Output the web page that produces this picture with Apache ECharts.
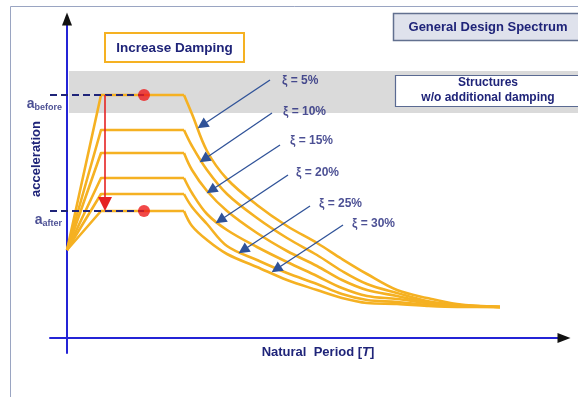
<!DOCTYPE html>
<html>
<head>
<meta charset="utf-8">
<script src="https://cdn.jsdelivr.net/npm/echarts@6/dist/echarts.min.js"></script>
<style>
  html, body { margin: 0; padding: 0; background: #ffffff; }
  #chart { width: 578px; height: 397px; }
</style>
</head>
<body>
<div id="chart"></div>
<script>
// ---- Design spectrum data (period T, spectral acceleration a) ----
const dampingLabels = ['ξ = 5%', 'ξ = 10%', 'ξ = 15%', 'ξ = 20%', 'ξ = 25%', 'ξ = 30%'];
const groundAccel = 0.88;        // spectral value at T = 0
const rampEndPeriod = 0.34;      // plateau starts here
const plateauAccel = [2.43, 2.08, 1.85, 1.60, 1.44, 1.27];

// descending branch, sampled at these periods (first = end of plateau)
const decayPeriod = [1.17, 1.25, 1.4, 1.6, 1.9, 2.2, 2.5, 2.75, 3.0, 3.3, 3.6, 3.9, 4.33];
const decay05 = [2.43, 2.24, 1.87, 1.59, 1.33, 1.12, 0.95, 0.79, 0.64, 0.48, 0.40, 0.34, 0.31];
const decay10 = [2.08, 1.92, 1.68, 1.44, 1.20, 1.00, 0.83, 0.67, 0.54, 0.45, 0.37, 0.33, 0.31];
const decay15 = [1.85, 1.68, 1.47, 1.27, 1.05, 0.87, 0.72, 0.58, 0.48, 0.42, 0.36, 0.33, 0.31];
const decay20 = [1.60, 1.45, 1.24, 1.08, 0.91, 0.76, 0.62, 0.50, 0.42, 0.39, 0.35, 0.32, 0.31];
const decay25 = [1.44, 1.31, 1.14, 0.92, 0.78, 0.65, 0.54, 0.44, 0.38, 0.36, 0.33, 0.32, 0.31];
const decay30 = [1.27, 1.12, 0.98, 0.84, 0.71, 0.58, 0.48, 0.40, 0.35, 0.34, 0.32, 0.31, 0.31];
const decayAccel = [decay05, decay10, decay15, decay20, decay25, decay30];

// damping labels and their pointer arrows
const labelAnchor = [[2.15, 2.57], [2.16, 2.26], [2.23, 1.97], [2.29, 1.65], [2.52, 1.34], [2.85, 1.14]];
const pointerTail = [[2.03, 2.58], [2.05, 2.25], [2.13, 1.93], [2.21, 1.63], [2.43, 1.32], [2.76, 1.13]];
const pointerTip  = [[1.31, 2.10], [1.33, 1.76], [1.40, 1.45], [1.49, 1.15], [1.72, 0.85], [2.05, 0.66]];

// a_before / a_after markers
const aBefore = plateauAccel[0];
const aAfter = plateauAccel[plateauAccel.length - 1];
const dotPeriod = 0.77;
const dropPeriod = 0.38;

// reference band of structures without additional damping
const bandAccel = [2.25, 2.67];
const bandStart = 0.02;

// axis extents
const xMin = -0.17, xMax = 4.97;
const yMin = -0.15, yMax = 3.19;

// ---- styling ----
const FONT = '"Liberation Sans", Arial, sans-serif';
const NAVY = '#1f2479';
const AXIS_BLUE = '#2424d6';
const CURVE = '#f5b122';
const POINTER = '#2f5298';

const chart = echarts.init(document.getElementById('chart'), null, { renderer: 'canvas' });

// shorten a pointer so the arrow head ends on the curve (equal px/unit on both axes)
function pullBack(tail, tip, d) {
  const dx = tip[0] - tail[0], dy = tip[1] - tail[1];
  const len = Math.hypot(dx, dy);
  return [tip[0] - dx / len * d, tip[1] - dy / len * d];
}

const series = [];

// spectrum curves: linear ramp + plateau, then smooth decay
dampingLabels.forEach(function (name, i) {
  series.push({
    name: name, type: 'line', symbol: 'none', z: 4,
    data: [[0, groundAccel], [rampEndPeriod, plateauAccel[i]], [decayPeriod[0], plateauAccel[i]]],
    lineStyle: { color: CURVE, width: 2.6, join: 'round' }
  });
  series.push({
    name: name, type: 'line', symbol: 'none', smooth: 0.35, z: 4,
    data: decayPeriod.map(function (t, k) { return [t, decayAccel[i][k]]; }),
    lineStyle: { color: CURVE, width: 2.6, join: 'round' }
  });
});

// dashed level lines for a_before / a_after, drawn over the plateaus
[aBefore, aAfter].forEach(function (a) {
  series.push({
    type: 'line', symbol: 'none', silent: true, z: 5,
    data: [[xMin, a], [dotPeriod, a]],
    lineStyle: { color: NAVY, width: 2, type: [7, 4] }
  });
});

// pointer arrows from the labels to the curves
series.push({
  type: 'lines', coordinateSystem: 'cartesian2d', z: 5, silent: true,
  symbol: ['none', 'triangle'], symbolSize: [8, 11],
  lineStyle: { color: POINTER, width: 1.3, opacity: 1 },
  data: pointerTail.map(function (tail, i) {
    return { coords: [tail, pullBack(tail, pointerTip[i], 0.05)], lineStyle: { color: POINTER } };
  })
});

// damping labels
series.push({
  type: 'scatter', symbolSize: 0, z: 6, silent: true,
  data: labelAnchor.map(function (p, i) { return { value: p, name: dampingLabels[i] }; }),
  label: {
    show: true, position: 'right', distance: 0, formatter: '{b}',
    color: NAVY, fontFamily: FONT, fontWeight: 'bold', fontSize: 12
  }
});

// red drop arrow from a_before to a_after
series.push({
  type: 'lines', coordinateSystem: 'cartesian2d', z: 6, silent: true,
  symbol: ['none', 'triangle'], symbolSize: [9, 14],
  lineStyle: { color: '#e52222', width: 1.6, opacity: 1 },
  data: [{ coords: [[dropPeriod, aBefore], [dropPeriod, aAfter + 0.07]] }]
});

// red markers
series.push({
  type: 'scatter', symbol: 'circle', symbolSize: 12, z: 7, silent: true,
  itemStyle: { color: '#ee1b1b' },
  data: [[dotPeriod, aBefore], [dotPeriod, aAfter]]
});

// a_before / a_after labels next to the vertical axis
series.push({
  type: 'scatter', symbolSize: 0, z: 6, silent: true,
  data: [
    { value: [0, aBefore], name: 'before' },
    { value: [0, aAfter], name: 'after' }
  ],
  label: {
    show: true, position: 'left', distance: 5, offset: [0, 9],
    formatter: function (p) { return '{a|a}{s|' + p.name + '}'; },
    rich: {
      a: { color: NAVY, fontFamily: FONT, fontWeight: 'bold', fontSize: 14 },
      s: { color: NAVY, fontFamily: FONT, fontWeight: 'bold', fontSize: 9, padding: [7, 0, 0, 0] }
    }
  }
});

function plainAxis(extra) {
  return Object.assign({
    type: 'value',
    axisTick: { show: false },
    axisLabel: { show: false },
    splitLine: { show: false }
  }, extra);
}

const option = {
  animation: false,
  backgroundColor: '#ffffff',
  grid: { left: 50, right: 14, top: 19, bottom: 44 },
  xAxis: [
    plainAxis({
      min: xMin, max: xMax, position: 'bottom',
      axisLine: { onZero: true, onZeroAxisIndex: 0, lineStyle: { color: AXIS_BLUE, width: 2 } }
    }),
    // second copy of the axis that only carries the black arrow head
    plainAxis({
      min: xMin, max: xMax, position: 'bottom',
      axisLine: {
        onZero: true, onZeroAxisIndex: 0, symbol: ['none', 'triangle'], symbolSize: [10, 13],
        lineStyle: { color: '#111111', width: 0 }
      }
    })
  ],
  yAxis: [
    plainAxis({
      min: yMin, max: yMax, position: 'left',
      axisLine: { onZero: true, onZeroAxisIndex: 0, lineStyle: { color: AXIS_BLUE, width: 2 } }
    }),
    plainAxis({
      min: yMin, max: yMax, position: 'left',
      axisLine: {
        onZero: true, onZeroAxisIndex: 0, symbol: ['none', 'triangle'], symbolSize: [10, 13],
        lineStyle: { color: '#111111', width: 0 }
      }
    })
  ],
  series: series
};

chart.setOption(option);

// frame, gray band, title boxes and axis names
const bandTop = chart.convertToPixel({ gridIndex: 0 }, [bandStart, bandAccel[1]]);
const bandBottom = chart.convertToPixel({ gridIndex: 0 }, [bandStart, bandAccel[0]]);

chart.setOption({
  graphic: [
    {
      type: 'rect', z: -10, silent: true,
      shape: { x: bandTop[0], y: bandTop[1], width: 600, height: bandBottom[1] - bandTop[1] },
      style: { fill: '#dadada' }
    },
    {
      type: 'rect', z: 1, silent: true,
      shape: { x: 10.5, y: 6.5, width: 620, height: 420 },
      style: { fill: 'none', stroke: '#9aa5c2', lineWidth: 1 }
    },
    {
      type: 'rect', z: 1, silent: true,
      shape: { x: 105, y: 33, width: 139, height: 29 },
      style: { fill: '#ffffff', stroke: CURVE, lineWidth: 2 }
    },
    {
      type: 'text', z: 2, silent: true, x: 174.5, y: 48,
      style: { text: 'Increase Damping', align: 'center', verticalAlign: 'middle',
               fill: NAVY, font: 'bold 13.5px ' + FONT }
    },
    {
      type: 'rect', z: 1, silent: true,
      shape: { x: 393.5, y: 13.5, width: 220, height: 27 },
      style: { fill: '#dfe2ec', stroke: '#62708f', lineWidth: 1.5 }
    },
    {
      type: 'text', z: 2, silent: true, x: 488, y: 27,
      style: { text: 'General Design Spectrum', align: 'center', verticalAlign: 'middle',
               fill: NAVY, font: 'bold 13px ' + FONT }
    },
    {
      type: 'rect', z: 1, silent: true,
      shape: { x: 395.5, y: 75.5, width: 220, height: 31 },
      style: { fill: '#ffffff', stroke: '#5a6a92', lineWidth: 1.2 }
    },
    {
      type: 'text', z: 2, silent: true, x: 488, y: 90.5,
      style: { text: 'Structures\nw/o additional damping', align: 'center', verticalAlign: 'middle',
               lineHeight: 15, fill: NAVY, font: 'bold 12px ' + FONT }
    },
    {
      type: 'text', z: 2, silent: true, x: 318, y: 352,
      style: {
        text: '{n|Natural  Period [}{i|T}{n|]}', align: 'center', verticalAlign: 'middle',
        rich: {
          n: { fill: NAVY, font: 'bold 13px ' + FONT },
          i: { fill: NAVY, font: 'italic bold 13px ' + FONT }
        }
      }
    },
    {
      type: 'text', z: 2, silent: true, x: 36, y: 159, rotation: Math.PI / 2,
      style: { text: 'acceleration', align: 'center', verticalAlign: 'middle',
               fill: NAVY, font: 'bold 13px ' + FONT }
    }
  ]
});
</script>
</body>
</html>
